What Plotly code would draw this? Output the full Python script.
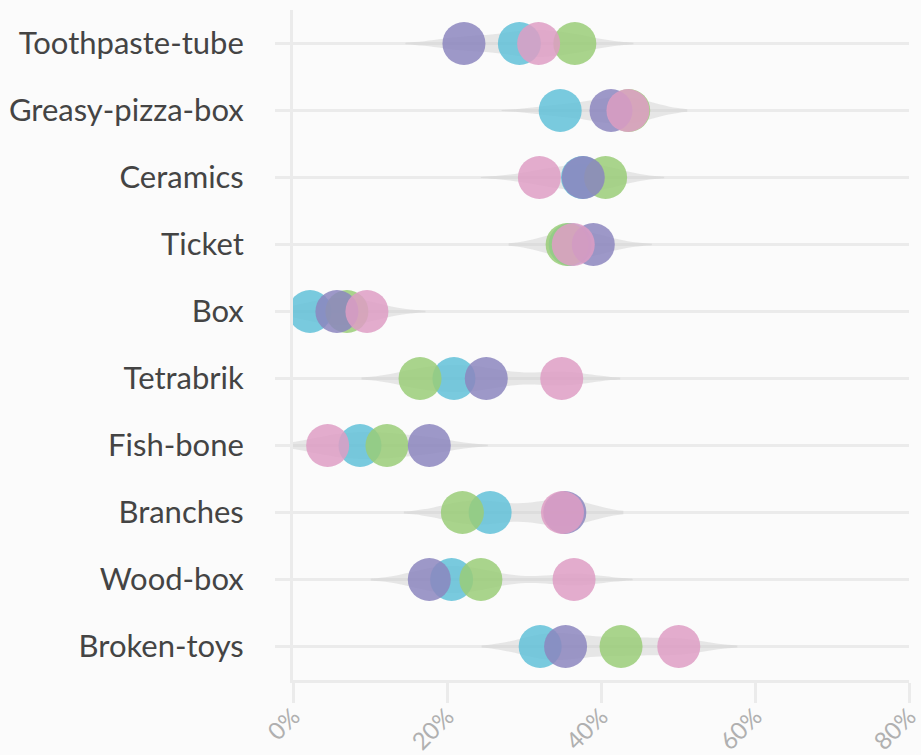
import plotly.graph_objects as go

categories = ["Toothpaste-tube", "Greasy-pizza-box", "Ceramics", "Ticket", "Box",
              "Tetrabrik", "Fish-bone", "Branches", "Wood-box", "Broken-toys"]

cyan_vals   = [29.4, 34.7, 37.6, 36.0, 2.2, 20.9, 8.7, 25.6, 20.6, 32.1]
green_vals  = [36.6, 43.6, 40.6, 35.6, 7.0, 16.5, 12.2, 22.0, 24.4, 42.6]
purple_vals = [22.2, 41.3, 37.7, 39.0, 5.7, 25.1, 17.7, 35.3, 17.7, 35.4]
pink_vals   = [31.9, 43.5, 32.0, 36.4, 9.6, 34.9, 4.5, 35.0, 36.5, 50.1]

series = [
    ("cyan", cyan_vals, "rgba(98,193,216,0.85)"),
    ("green", green_vals, "rgba(154,204,120,0.85)"),
    ("purple", purple_vals, "rgba(140,134,190,0.85)"),
    ("pink", pink_vals, "rgba(222,158,196,0.85)"),
]

x_ticks = [0, 20, 40, 60, 80]
x_ticklabels = ["0%", "20%", "40%", "60%", "80%"]

fig = go.Figure()

for i, cat in enumerate(categories):
    vals = [s[1][i] for s in series]
    fig.add_trace(go.Violin(
        x=vals, y=[cat] * len(vals), orientation="h",
        side="both", points=False, box_visible=False, meanline_visible=False,
        fillcolor="rgba(200,200,200,0.4)", line=dict(width=0),
        bandwidth=3.8, spanmode="soft", scalegroup="all", scalemode="width",
        width=0.4, hoverinfo="skip", showlegend=False,
    ))

for name, vals, color in series:
    fig.add_trace(go.Scatter(
        x=vals, y=categories, mode="markers", name=name,
        marker=dict(size=43, color=color, line=dict(width=0)),
        showlegend=False,
    ))

grid = "#ebebeb"
fig.update_layout(
    width=921, height=755,
    margin=dict(l=293, r=12, t=10, b=75),
    paper_bgcolor="#fbfbfb", plot_bgcolor="#fbfbfb",
    font=dict(family="Lato, 'Open Sans', sans-serif"),
    showlegend=False,
    violinmode="overlay",
    xaxis=dict(
        range=[0, 80], tickvals=x_ticks, ticktext=x_ticklabels,
        tickangle=-45, tickfont=dict(size=24, color="#b0b0b0"),
        ticklabeloverflow="allow", ticklabelstandoff=-10,
        showgrid=False, zeroline=False, automargin=False,
        showline=True, linecolor=grid, linewidth=3,
        ticks="outside", ticklen=20, tickwidth=3, tickcolor=grid,
    ),
    yaxis=dict(
        categoryorder="array", categoryarray=categories,
        autorange=False, range=[9.5, -0.5], automargin=False,
        tickfont=dict(size=31, color="#444444"),
        ticklabelstandoff=25,
        showgrid=True, gridcolor=grid, gridwidth=3,
        showline=True, linecolor=grid, linewidth=3,
        zeroline=False,
        ticks="outside", ticklen=15, tickwidth=3, tickcolor=grid,
    ),
)

fig.write_html("out.html", config={"displayModeBar": False},
               post_script="document.body.style.margin='0';document.body.style.background='#fbfbfb';")
